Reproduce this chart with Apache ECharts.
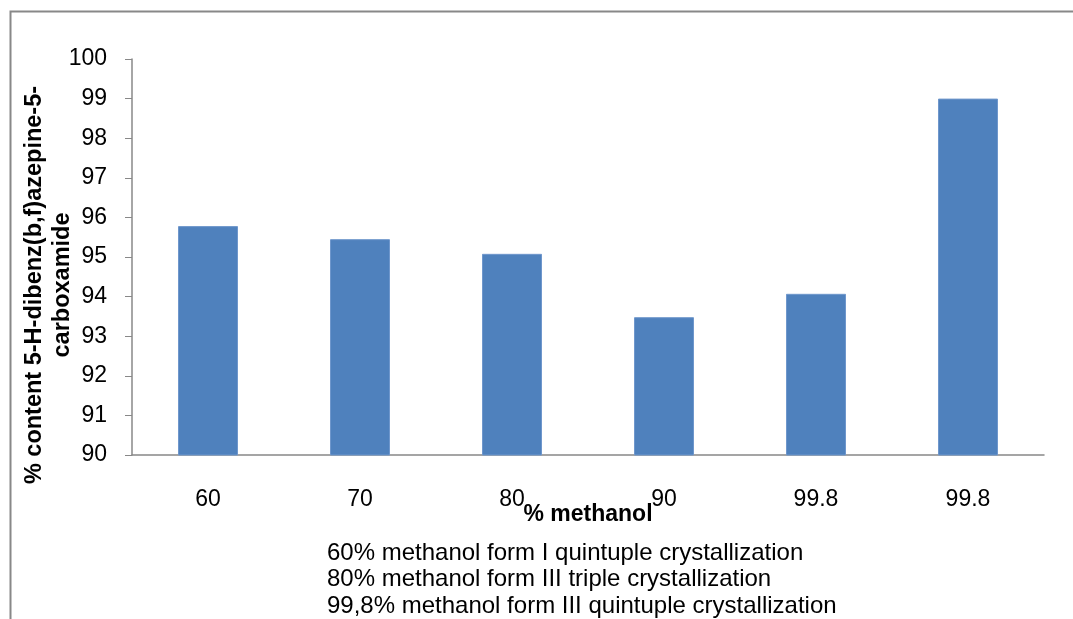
<!DOCTYPE html>
<html><head><meta charset="utf-8">
<script src="https://cdn.jsdelivr.net/npm/echarts@6/dist/echarts.min.js"></script>
<style>html,body{margin:0;padding:0;background:#fff}#c{width:1073px;height:619px}</style>
</head><body><div id="c"></div>
<script>
const categories = ['60', '70', '80', '90', '99.8', '99.8'];
const values = [95.78, 95.45, 95.08, 93.48, 94.07, 99.0];
const notes = [
  '60% methanol form I quintuple crystallization',
  '80% methanol form III triple crystallization',
  '99,8% methanol form III quintuple crystallization'
];
const yTitle = '% content 5-H-dibenz(b,f)azepine-5-\ncarboxamide';
const xTitle = '% methanol';

const font = '"Liberation Sans", Arial, sans-serif';
const chart = echarts.init(document.getElementById('c'));
chart.setOption({
  animation: false,
  grid: { left: 132, right: 29, top: 59, bottom: 164 },
  xAxis: {
    type: 'category', data: categories,
    axisLine: { lineStyle: { color: '#888', width: 1.5 } },
    axisTick: { show: false },
    axisLabel: { color: '#000', fontSize: 23, fontFamily: font, margin: 33 },
    name: xTitle, nameLocation: 'middle', nameGap: 48, nameMoveOverlap: false,
    nameTextStyle: { color: '#000', fontSize: 23, fontWeight: 'bold', fontFamily: font }
  },
  yAxis: {
    type: 'value', min: 90, max: 100, interval: 1,
    axisLine: { show: true, lineStyle: { color: '#888', width: 1.5 } },
    axisTick: { show: true, length: 7, lineStyle: { color: '#888' } },
    splitLine: { show: false },
    axisLabel: { color: '#000', fontSize: 23, fontFamily: font, margin: 25 }
  },
  series: [{
    type: 'bar', data: values, barWidth: 60,
    itemStyle: { color: '#4f81bd', borderColor: '#6f97cc', borderWidth: 1 }
  }],
  graphic: [
    { type: 'rect', shape: { x: 10.5, y: 11.5, width: 1100, height: 700 },
      style: { fill: null, stroke: '#888', lineWidth: 2 }, silent: true },
    { type: 'text', x: 49, y: 285, rotation: Math.PI / 2,
      style: { text: yTitle, align: 'center', verticalAlign: 'middle', fill: '#000',
        fontSize: 23.5, fontWeight: 'bold', lineHeight: 28, fontFamily: font } },
    { type: 'text', left: 327, top: 540,
      style: { text: notes.join('\n'), fill: '#000', fontSize: 24, lineHeight: 26.5, fontFamily: font } }
  ]
});
</script></body></html>
